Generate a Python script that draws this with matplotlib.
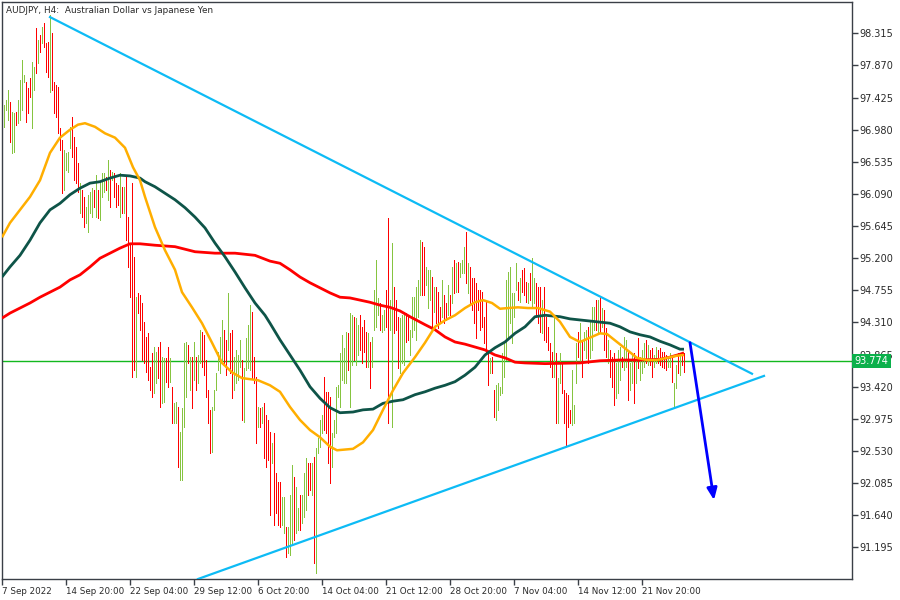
import matplotlib
matplotlib.use("Agg")
import matplotlib.pyplot as plt
import matplotlib.transforms as mtransforms
import numpy as np

# ---------------- data ----------------
highs = [
    97.32, 97.39, 97.53, 97.36, 97.23, 97.21, 97.23, 97.39, 97.67, 97.95,
    97.74, 97.64, 97.56, 97.70, 97.92, 97.85, 98.39, 98.22, 98.29, 98.40,
    98.46, 98.18, 98.19, 98.57, 98.32, 97.64, 97.60, 97.57, 97.00, 96.84,
    96.70, 96.66, 96.67, 97.02, 97.16, 96.88, 96.74, 96.52, 96.24, 96.14,
    96.05, 95.91, 96.08, 96.12, 96.17, 96.14, 96.35, 96.14, 96.25, 96.38,
    96.38, 96.32, 96.56, 96.42, 96.39, 96.38, 96.24, 96.21, 96.38, 96.19,
    96.19, 96.35, 95.77, 95.41, 96.24, 95.22, 94.66, 94.72, 94.69, 94.58,
    94.32, 94.11, 94.16, 93.69, 93.89, 93.97, 93.90, 93.97, 94.04, 93.83,
    93.82, 93.82, 93.97, 93.82, 93.42, 93.19, 93.21, 93.14, 92.79, 93.13,
    94.03, 94.04, 94.00, 93.83, 93.83, 94.04, 93.83, 93.86, 94.21, 94.18,
    94.14, 93.79, 93.37, 93.10, 93.14, 93.37, 93.61, 93.90, 94.11, 94.34,
    94.21, 94.07, 94.72, 94.16, 94.21, 93.83, 93.93, 93.86, 94.07, 93.79,
    93.68, 94.10, 94.28, 94.55, 94.46, 93.83, 93.55, 93.14, 93.13, 93.14,
    93.19, 93.03, 92.96, 92.79, 92.64, 92.78, 92.23, 92.10, 92.10, 91.89,
    91.89, 91.48, 91.48, 91.92, 92.34, 92.17, 92.03, 91.74, 91.92, 91.92,
    92.23, 92.43, 92.36, 92.36, 92.36, 92.45, 92.57, 92.71, 92.96, 93.03,
    93.55, 93.35, 93.35, 93.28, 92.78, 92.96, 93.42, 93.44, 93.89, 94.14,
    93.96, 94.18, 94.16, 94.44, 94.41, 94.39, 94.37, 94.28, 94.41, 94.25,
    94.34, 94.18, 94.16, 94.04, 94.11, 94.76, 95.18, 94.65, 94.58, 94.41,
    94.48, 94.76, 95.76, 94.62, 95.41, 94.80, 94.62, 94.39, 94.37, 94.41,
    94.46, 94.44, 94.41, 94.21, 94.66, 94.66, 94.80, 94.90, 95.45, 95.42,
    95.35, 95.08, 95.04, 95.04, 94.94, 94.80, 94.80, 94.73, 94.52, 94.90,
    94.69, 94.58, 94.83, 94.69, 95.08, 95.18, 95.13, 95.15, 95.13, 95.18,
    95.36, 95.56, 95.13, 95.08, 94.93, 94.93, 94.86, 94.76, 94.76, 94.73,
    94.39, 94.62, 93.89, 93.82, 93.83, 93.37, 93.44, 93.47, 93.42, 93.89,
    94.03, 94.90, 95.01, 95.08, 94.72, 94.72, 95.13, 94.87, 94.93, 95.04,
    95.06, 94.87, 94.86, 94.99, 95.20, 94.93, 94.86, 94.80, 94.80, 94.62,
    94.80, 94.39, 94.25, 94.03, 93.90, 94.37, 93.89, 93.54, 93.89, 93.75,
    93.37, 93.33, 93.31, 93.10, 93.65, 93.17, 94.03, 94.18, 94.30, 94.07,
    94.18, 94.21, 94.25, 94.34, 94.52, 94.52, 94.62, 94.62, 94.66, 94.51,
    94.48, 94.23, 94.07, 93.93, 93.83, 93.89, 93.75, 93.93, 93.97, 93.83,
    94.11, 94.07, 93.90, 93.75, 93.86, 93.89, 93.79, 94.10, 93.83, 93.93,
    94.03, 94.07, 94.00, 93.93, 93.96, 93.86, 93.97, 93.93, 93.96, 93.90,
    93.90, 93.86, 93.83, 93.89, 93.83, 93.47, 93.72, 93.89, 93.86, 93.90, 93.89,
]
lows = [
    97.02, 97.25, 97.11, 96.81, 96.66, 96.67, 97.04, 97.07, 97.11, 97.25,
    97.64, 97.09, 97.21, 97.43, 97.00, 97.53, 97.77, 97.90, 98.06, 98.18,
    98.13, 97.78, 97.71, 97.50, 97.53, 97.21, 97.16, 96.93, 96.70, 96.10,
    96.14, 96.42, 96.39, 96.73, 96.60, 96.28, 96.24, 96.12, 95.83, 95.77,
    95.63, 95.69, 95.56, 95.83, 95.77, 95.91, 95.77, 95.76, 95.73, 96.05,
    96.12, 96.14, 96.01, 95.91, 96.28, 96.05, 95.91, 95.94, 95.77, 95.83,
    95.83, 95.45, 95.08, 94.66, 93.55, 93.65, 93.55, 94.44, 94.21, 93.79,
    93.75, 93.62, 93.51, 93.37, 93.28, 93.33, 93.47, 93.54, 93.14, 93.19,
    93.21, 93.49, 93.42, 93.49, 92.92, 92.92, 92.92, 92.31, 92.13, 92.13,
    92.86, 93.28, 93.75, 93.37, 93.13, 93.51, 93.37, 93.47, 93.75, 93.69,
    93.58, 93.28, 92.92, 92.50, 92.52, 93.10, 93.37, 93.65, 93.61, 93.75,
    93.75, 93.58, 93.93, 93.61, 93.26, 93.37, 93.47, 93.51, 93.69, 92.96,
    92.93, 93.65, 93.68, 93.65, 93.54, 93.47, 92.64, 92.86, 92.86, 92.92,
    92.43, 92.31, 92.41, 91.64, 92.36, 91.51, 91.67, 91.51, 91.48, 91.51,
    91.39, 91.06, 91.12, 91.09, 91.23, 91.30, 91.39, 91.44, 91.44, 91.53,
    91.62, 91.71, 91.92, 91.99, 91.92, 90.98, 90.84, 92.50, 92.59, 92.78,
    92.82, 92.78, 92.36, 92.09, 92.31, 92.73, 92.78, 93.28, 93.14, 93.51,
    93.47, 93.47, 93.65, 93.14, 93.72, 93.79, 93.72, 93.86, 93.93, 93.75,
    93.90, 93.69, 93.69, 93.40, 93.69, 94.21, 94.25, 94.41, 94.21, 94.18,
    94.21, 94.25, 92.92, 94.21, 92.86, 94.16, 94.21, 93.68, 93.61, 93.75,
    93.72, 94.04, 94.07, 93.86, 94.11, 94.21, 94.07, 94.39, 94.69, 94.69,
    94.69, 94.83, 94.51, 94.62, 94.21, 94.46, 94.30, 94.23, 94.30, 94.39,
    94.30, 94.34, 94.41, 94.41, 94.58, 94.72, 94.73, 94.73, 94.94, 95.00,
    95.00, 94.86, 94.72, 94.58, 94.48, 94.30, 94.10, 94.48, 94.21, 94.25,
    94.03, 93.89, 93.44, 93.61, 93.61, 93.00, 92.96, 93.10, 93.31, 93.33,
    93.55, 93.79, 94.10, 94.30, 94.03, 94.39, 94.76, 94.62, 94.59, 94.73,
    94.69, 94.59, 94.58, 94.62, 94.52, 94.58, 94.39, 94.30, 94.18, 94.16,
    94.07, 94.04, 93.93, 93.69, 93.55, 93.55, 92.92, 92.92, 93.47, 93.33,
    92.92, 92.61, 92.86, 92.92, 92.89, 92.92, 93.47, 93.83, 93.75, 93.55,
    93.93, 93.82, 93.75, 93.82, 93.93, 94.21, 94.21, 94.18, 94.16, 94.25,
    93.93, 93.83, 93.75, 93.55, 93.42, 93.17, 93.26, 93.33, 93.51, 93.69,
    93.65, 93.69, 93.24, 93.37, 93.47, 93.19, 93.47, 93.68, 93.51, 93.61,
    93.69, 93.75, 93.72, 93.72, 93.55, 93.69, 93.75, 93.75, 93.72, 93.69,
    93.68, 93.65, 93.69, 93.69, 93.49, 93.14, 93.40, 93.61, 93.58, 93.72, 93.62,
]
up = [
    1, 1, 1, 0, 1, 1, 0, 1, 1, 1,
    1, 0, 0, 0, 1, 1, 0, 1, 0, 1,
    0, 0, 0, 1, 0, 0, 0, 0, 0, 0,
    1, 1, 1, 1, 0, 0, 0, 0, 1, 0,
    0, 1, 1, 1, 1, 0, 1, 0, 1, 1,
    1, 0, 1, 0, 1, 0, 0, 0, 1, 0,
    1, 0, 0, 0, 0, 0, 1, 0, 0, 0,
    0, 0, 0, 0, 0, 1, 1, 0, 0, 1,
    1, 0, 0, 1, 0, 1, 1, 0, 1, 1,
    1, 1, 0, 1, 0, 1, 0, 1, 1, 0,
    0, 0, 0, 0, 1, 1, 1, 1, 1, 1,
    0, 0, 1, 0, 0, 1, 1, 1, 1, 0,
    1, 1, 1, 1, 0, 0, 0, 1, 0, 1,
    0, 0, 0, 0, 1, 0, 0, 0, 0, 1,
    1, 0, 1, 1, 1, 0, 1, 1, 0, 1,
    1, 1, 0, 0, 1, 0, 1, 1, 1, 1,
    0, 0, 0, 0, 1, 1, 1, 1, 1, 1,
    1, 1, 0, 1, 1, 0, 1, 1, 0, 0,
    0, 0, 1, 0, 1, 1, 1, 1, 0, 1,
    1, 0, 0, 1, 1, 0, 0, 0, 1, 1,
    1, 0, 0, 1, 1, 1, 1, 1, 1, 0,
    0, 1, 1, 1, 0, 1, 0, 0, 0, 1,
    0, 0, 1, 0, 1, 0, 1, 0, 1, 1,
    1, 0, 1, 0, 0, 0, 0, 0, 0, 0,
    0, 0, 0, 1, 0, 0, 1, 1, 1, 1,
    1, 1, 1, 1, 1, 1, 1, 0, 1, 0,
    0, 0, 1, 0, 1, 1, 0, 0, 0, 1,
    0, 0, 0, 0, 0, 1, 0, 1, 1, 0,
    0, 0, 0, 0, 1, 1, 1, 0, 1, 0,
    1, 1, 0, 1, 1, 1, 0, 1, 0, 1,
    0, 0, 1, 0, 0, 0, 1, 1, 1, 0,
    1, 1, 0, 1, 1, 0, 1, 0, 1, 1,
    1, 0, 1, 0, 0, 1, 1, 0, 0, 0,
    0, 0, 1, 1, 0, 1, 1, 0, 1, 0, 0,
]

# moving averages (bar index, price)
fast_idx = [-1, 3, 8, 13, 18, 23, 28, 33, 37, 40.5, 45.5, 50.5, 55.5, 60.5, 64.5, 68, 70.5, 75.5,
            80.5, 85.5, 89, 94, 99, 104, 109, 114, 119, 127, 133, 138, 143, 148, 153, 158, 163,
            166.5, 174.5, 179.5, 184.5, 189.5, 194.5, 199.5, 205.5, 210.5, 215.5, 220.5, 225.5,
            230.5, 235.5, 239.5, 244, 248, 252, 257, 262, 267, 273, 278, 283, 288, 293, 298,
            301.5, 306.5, 311.5, 316.5, 321.5, 326.5, 331.5, 336.5, 340]
fast_val = [95.49, 95.69, 95.87, 96.05, 96.28, 96.66, 96.87, 96.98, 97.05, 97.07, 97.02, 96.93,
            96.87, 96.73, 96.46, 96.28, 96.05, 95.63, 95.31, 95.04, 94.73, 94.52, 94.30, 94.03,
            93.75, 93.62, 93.54, 93.51, 93.44, 93.35, 93.14, 92.96, 92.82, 92.72, 92.59, 92.54,
            92.56, 92.65, 92.82, 93.10, 93.37, 93.61, 93.83, 94.03, 94.25, 94.34, 94.41, 94.51,
            94.59, 94.62, 94.58, 94.50, 94.51, 94.52, 94.51, 94.51, 94.46, 94.32, 94.11, 94.04,
            94.10, 94.16, 94.15, 94.04, 93.93, 93.82, 93.79, 93.79, 93.82, 93.85, 93.86]

mid_idx = [-1, 3, 8, 13, 18, 23, 28, 33, 38, 43, 48, 53, 58, 63, 68, 70.5, 75.5, 80.5, 85.5, 90.5,
           95.5, 100.5, 105.5, 110.5, 115.5, 120.5, 125.5, 130.5, 133, 138, 143, 148, 153, 158,
           163, 168, 174.5, 179.5, 184.5, 189.5, 194.5, 199.5, 205.5, 210.5, 215.5, 220.5, 225.5,
           230.5, 235.5, 240.5, 245.5, 250.5, 255.5, 260.5, 265.5, 270.5, 278, 283, 293, 303,
           308, 313, 318, 323, 328, 333, 338, 340]
mid_val = [94.94, 95.08, 95.24, 95.45, 95.69, 95.87, 95.96, 96.08, 96.17, 96.24, 96.26, 96.31,
           96.35, 96.34, 96.31, 96.26, 96.19, 96.10, 96.01, 95.90, 95.77, 95.62, 95.41, 95.22,
           95.01, 94.79, 94.58, 94.41, 94.30, 94.07, 93.86, 93.65, 93.42, 93.26, 93.13, 93.06,
           93.07, 93.10, 93.11, 93.19, 93.22, 93.24, 93.31, 93.35, 93.40, 93.44, 93.49, 93.58,
           93.69, 93.86, 93.96, 94.04, 94.16, 94.25, 94.39, 94.41, 94.39, 94.36, 94.33, 94.30,
           94.25, 94.18, 94.14, 94.11, 94.05, 94.00, 93.94, 93.94]

slow_idx = [-1, 3, 8, 13, 18, 23, 28, 33, 38, 43, 48, 53, 58, 63, 68, 75.5, 85.5, 95.5, 105.5,
            115.5, 125.5, 133, 138, 143, 148, 153, 158, 163, 168, 173, 178, 183, 188, 193, 198,
            203, 210.5, 215.5, 220.5, 225.5, 230.5, 235.5, 240.5, 245.5, 250.5, 255.5, 260.5,
            270.5, 288, 298, 308, 318, 328, 333, 338, 340]
slow_val = [94.37, 94.44, 94.51, 94.58, 94.66, 94.73, 94.80, 94.90, 94.97, 95.08, 95.20, 95.27,
            95.34, 95.40, 95.40, 95.38, 95.36, 95.29, 95.27, 95.27, 95.24, 95.16, 95.13, 95.04,
            94.94, 94.86, 94.79, 94.72, 94.66, 94.65, 94.62, 94.59, 94.55, 94.52, 94.47, 94.39,
            94.28, 94.21, 94.11, 94.04, 94.01, 93.97, 93.93, 93.86, 93.82, 93.76, 93.75, 93.74,
            93.75, 93.78, 93.79, 93.79, 93.80, 93.83, 93.87, 93.89]

# drawn objects (bar index, price)
upper_trend = [(23, 98.54), (374, 93.60)]
lower_trend = [(97, 90.757), (380, 93.57)]
arrow_line = [(343, 94.03), (355, 91.85)]
last_price = 93.774

title = "AUDJPY, H4:  Australian Dollar vs Japanese Yen"
xtick_labels = ["7 Sep 2022", "14 Sep 20:00", "22 Sep 04:00", "29 Sep 12:00", "6 Oct 20:00",
                "14 Oct 04:00", "21 Oct 12:00", "28 Oct 20:00", "7 Nov 04:00", "14 Nov 12:00",
                "21 Nov 20:00"]
xtick_pos = [-1, 31, 63, 95, 127, 159, 191, 223, 255, 287, 319]
ytick_vals = [91.195, 91.640, 92.085, 92.530, 92.975, 93.420, 93.865, 94.310, 94.755, 95.200,
              95.645, 96.090, 96.535, 96.980, 97.425, 97.870, 98.315]

# ---------------- figure ----------------
fig = plt.figure(figsize=(9, 6), dpi=100)
fig.patch.set_facecolor("white")
ax = fig.add_axes([2 / 900, 21 / 600, 850 / 900, 577 / 600])
ax.set_facecolor("white")
ax.set_xlim(-1, 424)
ax.set_ylim(90.757, 98.749)

n = min(len(highs), len(lows), len(up))
idx = np.arange(n)
GREEN_BAR = "#86C440"
RED_BAR = "#FF0000"
cols = [GREEN_BAR if up[k] else RED_BAR for k in range(n)]
ax.vlines(idx, lows[:n], highs[:n], colors=cols, linewidth=0.55, antialiased=False, zorder=2)

# horizontal price line
ax.axhline(last_price, color="#12B81E", linewidth=1.0, zorder=1.5)

# moving averages
ax.plot(slow_idx, slow_val, color="#FF0000", linewidth=2.0, zorder=4, solid_capstyle="butt")
ax.plot(mid_idx, mid_val, color="#0E5448", linewidth=2.0, zorder=4, solid_capstyle="butt")
ax.plot(fast_idx, fast_val, color="#FFAE00", linewidth=1.8, zorder=4, solid_capstyle="butt")

# trendlines
for seg in (upper_trend, lower_trend):
    xs, ys = zip(*seg)
    ax.plot(xs, ys, color="#0DBBF5", linewidth=1.6, zorder=5)

# arrow
ax.annotate("", xy=arrow_line[1], xytext=arrow_line[0],
            arrowprops=dict(arrowstyle="-|>,head_length=0.7,head_width=0.3",
                            color="#0000FF", lw=2.0, shrinkA=0, shrinkB=0),
            zorder=6)

# frame
for sp in ax.spines.values():
    sp.set_color("#3A3F47")
    sp.set_linewidth(1.0)

# y ticks on right
ax.yaxis.tick_right()
ax.set_yticks(ytick_vals)
ax.set_yticklabels([f"{v:.3f}" for v in ytick_vals])
ax.tick_params(axis="y", direction="out", length=4, width=1, color="#3A3F47",
               labelsize=7, labelcolor="#2A2A2A", pad=1)

# x ticks
ax.set_xticks(xtick_pos)
ax.set_xticklabels(xtick_labels)
ax.tick_params(axis="x", direction="out", length=4, width=1, color="#3A3F47",
               labelsize=6.3, labelcolor="#2A2A2A", pad=2)
for lab in ax.get_xticklabels():
    lab.set_horizontalalignment("left")

# title
ax.text(0.005, 0.993, title, transform=ax.transAxes, ha="left", va="top",
        fontsize=6.4, color="#2A2A2A", zorder=7)

# price label on the right (covers part of the 93.865 tick label, as in the reference)
trans = mtransforms.blended_transform_factory(ax.transAxes, ax.transData)
ax.text(1.003, last_price, f"{last_price:.3f}", transform=trans, ha="left", va="center",
        fontsize=7, color="white", zorder=10, clip_on=False,
        bbox=dict(boxstyle="square,pad=0.22", facecolor="#0BB04B", edgecolor="none"))

fig.savefig("out.png", dpi=100, facecolor="white")
